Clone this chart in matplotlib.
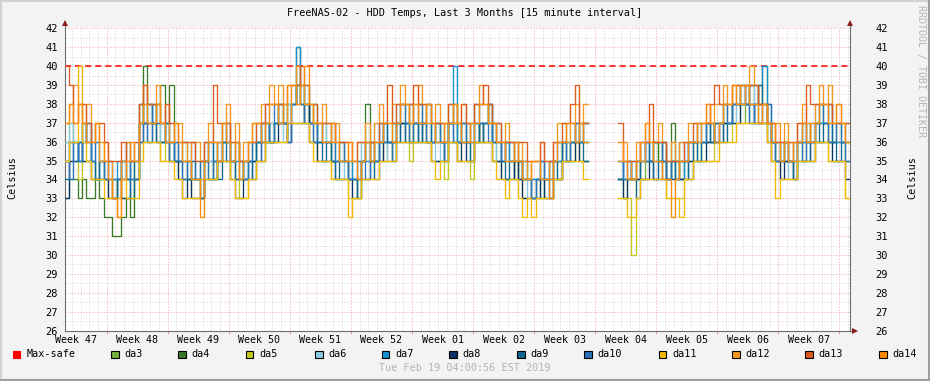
import numpy as np
import matplotlib.pyplot as plt
from matplotlib.patches import Rectangle
from matplotlib.lines import Line2D

N = None  # no data (collector gap)

# one value every 12 hours, 90 days
da3 = [36,37,36,35,37,36,35,34,35,34,34,33,34,35,34,35,34,37,38,37,
       37,38,36,37,36,35,35,36,35,34,34,35,35,34,35,36,36,37,35,36,
       34,35,35,36,36,37,37,36,37,38,37,38,38,39,38,39,37,38,36,37,
       36,35,35,36,35,34,34,33,35,36,35,36,36,35,36,37,37,38,37,36,
       37,38,37,36,36,37,36,35,37,38,36,37,36,35,37,36,37,38,36,35,
       35,36,35,34,35,34,34,33,34,33,34,35,35,34,36,35,36,37,36,37,
       N,N,N,N,N,N,N,34,33,34,34,35,34,35,35,36,35,36,34,35,
       34,35,35,36,36,35,36,37,36,37,37,38,37,38,38,37,38,39,38,37,
       38,37,36,35,35,36,35,34,36,35,36,37,37,38,37,36,36,37,36,35]
da4 = [33,34,34,33,34,33,33,34,33,32,32,31,31,32,33,32,34,37,40,38,
       37,38,39,37,39,36,35,35,34,34,34,33,35,35,34,35,36,36,35,34,
       34,34,35,35,36,36,36,37,37,37,37,38,38,41,39,38,37,37,36,36,
       36,35,35,35,35,34,34,34,35,38,36,35,36,36,36,36,37,37,37,36,
       37,37,37,36,36,36,36,36,37,37,36,36,36,36,36,37,37,37,36,36,
       35,35,35,34,35,34,34,34,34,34,34,34,35,35,36,36,36,36,36,36,
       N,N,N,N,N,N,N,34,34,34,34,34,35,35,35,36,35,35,34,37,
       35,34,35,35,36,36,36,36,36,37,37,37,37,38,38,38,38,39,39,38,
       40,37,36,36,35,35,35,35,36,36,36,36,37,37,37,36,36,36,36,36]
da5 = [35,35,35,34,35,35,34,34,34,34,33,33,34,33,33,33,34,36,36,36,
       36,36,35,36,35,35,34,34,34,33,33,33,34,34,34,35,35,35,34,34,
       33,33,34,34,35,35,36,36,36,36,36,37,37,37,37,38,36,36,35,35,
       35,34,34,34,34,33,33,33,34,34,34,35,35,35,35,36,36,36,36,35,
       36,36,36,36,35,35,35,34,36,36,35,35,35,34,36,36,36,36,35,35,
       34,34,34,34,34,33,33,33,33,33,33,33,34,34,35,35,35,36,35,35,
       N,N,N,N,N,N,N,33,33,33,30,34,34,34,34,34,34,34,33,33,
       33,33,34,34,35,35,35,35,35,36,36,36,36,37,37,37,37,37,37,37,
       37,36,35,35,34,34,34,34,35,35,35,35,36,36,36,35,35,35,35,33]
da6 = [36,37,36,35,37,36,35,36,34,35,35,34,33,35,34,35,35,37,38,37,
       38,37,36,37,36,35,35,36,34,35,35,34,36,35,34,36,36,37,35,34,
       35,34,36,35,37,36,38,37,37,38,36,38,39,38,38,39,37,38,36,37,
       36,35,35,36,34,35,34,35,36,35,35,37,36,37,35,37,38,37,37,38,
       37,36,37,38,36,35,36,37,38,37,36,37,37,36,37,38,38,37,36,35,
       35,36,35,34,34,35,33,34,34,35,33,35,35,36,36,37,37,36,36,37,
       N,N,N,N,N,N,N,34,35,34,35,34,35,36,35,34,35,36,34,35,
       35,34,35,36,36,37,36,37,37,36,37,38,38,37,39,38,38,39,37,38,
       38,37,36,35,36,35,34,35,36,37,36,37,38,37,37,38,36,37,36,35]
da7 = [35,36,36,35,36,37,35,34,35,35,34,34,35,34,34,35,35,37,37,38,
       37,37,37,36,36,35,35,35,35,34,34,34,35,36,35,35,36,36,35,35,
       35,34,35,35,36,37,37,36,37,37,37,37,38,41,39,38,37,37,36,36,
       36,36,35,35,35,35,34,34,35,35,35,35,36,37,36,36,37,37,37,37,
       37,37,37,37,36,36,36,36,37,40,36,36,36,36,37,37,37,38,36,36,
       35,36,35,35,35,35,34,34,34,34,34,34,35,35,36,36,36,36,36,36,
       N,N,N,N,N,N,N,35,34,34,35,35,35,36,35,35,35,35,35,35,
       34,34,35,36,36,36,36,36,37,36,37,37,37,38,38,38,38,38,38,39,
       40,38,36,36,35,35,35,35,36,36,36,36,37,37,37,37,36,36,36,36]
da8 = [33,35,35,36,35,35,34,34,34,34,33,33,34,33,33,34,34,36,37,37,
       37,36,36,36,35,35,34,33,34,33,33,33,34,34,34,35,35,35,34,33,
       33,34,34,35,35,36,36,36,36,37,37,36,37,37,37,38,36,36,35,35,
       35,35,34,34,34,34,33,34,34,34,35,35,35,36,36,36,36,37,36,36,
       36,37,36,36,35,35,35,36,36,36,35,36,35,35,36,37,36,36,35,35,
       34,34,34,35,34,33,33,33,33,34,33,33,34,34,35,35,35,36,35,35,
       N,N,N,N,N,N,N,34,33,34,34,34,34,34,35,34,34,35,34,34,
       34,34,34,35,35,35,35,36,36,36,36,37,37,37,37,38,39,38,37,37,
       37,36,35,35,34,35,35,34,35,35,35,36,36,36,36,36,35,35,35,34]
da9 = [34,36,35,36,37,36,35,34,35,34,34,33,34,35,34,33,35,38,37,36,
       37,36,36,37,36,35,35,34,34,35,34,33,35,36,35,34,36,35,35,34,
       34,35,35,34,36,37,37,36,37,38,37,36,38,39,38,37,37,36,36,35,
       36,35,34,35,35,34,34,33,35,36,35,34,36,37,36,35,37,36,37,38,
       37,36,37,38,36,37,36,35,37,36,36,37,36,35,37,36,37,38,36,37,
       35,34,35,36,35,34,34,33,34,35,34,33,35,34,36,35,36,37,36,35,
       N,N,N,N,N,N,N,34,35,35,34,33,35,36,35,34,35,36,34,35,
       34,35,35,34,36,35,36,37,36,37,37,36,37,38,38,39,38,37,38,39,
       38,37,36,35,35,36,35,34,36,37,36,35,37,36,37,38,36,35,36,37]
da10 = [35,34,36,35,36,37,35,36,35,34,35,34,34,35,36,34,34,36,37,36,
        38,37,37,36,35,36,35,34,35,36,34,35,35,34,35,36,37,36,35,36,
        35,34,35,36,36,35,37,36,38,37,37,36,38,39,38,37,37,36,37,36,
        36,37,35,36,35,34,34,35,35,34,36,35,37,36,36,35,37,38,37,36,
        37,38,37,36,36,37,36,35,37,36,36,37,36,37,38,37,37,36,37,36,
        35,36,36,35,35,34,34,33,34,35,34,35,35,36,36,35,36,37,36,37,
        N,N,N,N,N,N,N,35,34,35,34,35,36,35,35,36,36,35,34,35,
        35,36,35,36,36,37,36,37,37,36,37,38,37,38,38,39,38,37,38,38,
        37,38,36,35,35,36,35,36,36,35,37,36,37,38,37,36,36,37,36,35]
da11 = [35,36,36,40,36,35,34,34,34,33,33,33,33,34,33,33,33,35,36,36,
        36,36,35,35,35,34,34,33,33,33,33,34,34,34,34,35,35,35,34,33,
        33,33,34,34,35,35,36,36,36,36,36,37,37,37,37,37,36,35,35,35,
        35,34,34,34,34,32,33,33,34,34,34,34,35,35,35,35,36,36,36,36,
        36,36,36,36,35,34,35,35,36,36,35,35,35,35,36,36,36,36,35,34,
        34,33,34,34,33,32,33,32,33,33,33,33,34,34,35,35,35,35,35,34,
        N,N,N,N,N,N,N,33,33,32,32,33,34,34,34,34,34,34,33,33,
        33,32,34,34,35,35,35,35,35,35,36,36,36,36,37,37,37,37,37,37,
        37,36,35,33,34,34,34,34,35,35,35,35,36,36,36,35,35,35,35,33]
da12 = [37,38,39,38,37,38,36,37,35,36,35,33,32,35,36,35,35,38,39,38,
        38,39,37,38,36,37,37,36,35,36,36,35,36,37,36,36,37,38,36,37,
        35,36,36,37,37,38,38,39,38,39,38,37,39,40,39,38,38,37,37,38,
        37,36,37,36,36,35,35,36,36,37,36,37,38,37,37,38,38,39,38,37,
        38,39,38,37,37,38,37,36,38,37,37,38,37,36,38,39,38,37,37,36,
        36,37,36,35,36,35,34,35,35,36,35,34,36,37,37,36,37,38,37,38,
        N,N,N,N,N,N,N,35,36,35,34,36,35,37,36,36,37,36,35,36,
        35,36,36,37,37,36,37,38,37,38,38,39,38,39,39,38,39,40,39,38,
        38,37,37,36,36,37,36,35,37,38,37,36,38,39,38,39,37,38,37,36]
da13 = [40,39,37,38,38,37,36,37,37,36,35,35,35,36,35,35,36,38,39,38,
        38,38,37,38,37,37,36,36,36,36,35,35,36,36,39,37,37,37,36,36,
        35,35,36,36,37,37,38,38,38,38,38,39,39,39,40,39,38,38,37,37,
        37,37,36,36,36,36,35,36,36,36,36,36,37,37,39,37,38,38,38,38,
        39,38,38,38,37,37,37,37,38,38,37,38,37,37,38,38,39,38,37,37,
        36,36,36,36,36,36,35,35,35,36,35,35,36,36,37,37,38,39,37,37,
        N,N,N,N,N,N,N,37,35,35,35,35,36,36,38,36,36,36,35,35,
        35,35,36,36,37,37,37,37,38,39,38,38,38,39,39,39,39,39,39,38,
        38,37,37,36,36,36,36,36,37,37,39,38,38,38,38,38,37,37,37,37]
da14 = [37,38,37,38,37,36,36,37,36,35,34,33,32,34,35,36,35,37,38,37,
        37,38,37,36,36,37,36,35,35,34,34,32,35,36,36,35,37,36,35,36,
        34,35,36,37,37,36,37,38,38,37,38,39,39,38,39,40,38,37,37,36,
        36,37,36,35,35,36,35,34,35,36,35,36,36,37,37,36,37,38,38,37,
        38,37,37,38,37,36,36,37,37,38,37,36,36,37,37,38,38,37,37,36,
        36,35,35,36,35,34,34,35,35,34,34,33,35,36,36,37,37,36,37,36,
        N,N,N,N,N,N,N,36,35,34,34,35,36,37,36,35,35,34,34,32,
        34,35,35,36,36,37,37,38,37,36,37,38,38,39,38,39,39,38,38,37,
        38,37,36,37,35,36,35,36,36,37,36,37,37,38,38,37,37,38,37,36]

names = ['da3', 'da4', 'da5', 'da6', 'da7', 'da8', 'da9', 'da10',
         'da11', 'da12', 'da13', 'da14']
series = [da3, da4, da5, da6, da7, da8, da9, da10, da11, da12, da13, da14]
colors = ['#72b13e', '#3b7a27', '#c5c91d', '#8dcbe2', '#1790d2', '#0b3466',
          '#0d6891', '#2c72b8', '#f7b900', '#f6981f', '#df5a1d', '#ff8b05']
max_safe = 40
weeks = ['Week 47', 'Week 48', 'Week 49', 'Week 50', 'Week 51', 'Week 52',
         'Week 01', 'Week 02', 'Week 03', 'Week 04', 'Week 05', 'Week 06',
         'Week 07']

W, H = 930, 381
def fx(px): return px / W
def fy(py): return 1 - py / H

plt.rcParams['font.family'] = 'DejaVu Sans Mono'
FS = 7.3

fig = plt.figure(figsize=(9.3, 3.81), dpi=100, facecolor='#f3f3f3')
ax = fig.add_axes([fx(64.5), fy(330.6), 785 / W, 302.3 / H])
ax.set_facecolor('white')

days = 90
week0 = 4.84  # first week boundary, in days from the left edge

ax.set_xlim(0, days)
ax.set_ylim(26, 42)

# grid
ax.set_xticks(week0 + 7 * np.arange(13))
ax.set_xticks(week0 - 4 + np.arange(days), minor=True)
ax.set_yticks(np.arange(26, 43))
ax.set_yticks(np.arange(26.5, 42, 1), minor=True)
ax.grid(which='minor', color='#d0d0d0', ls=(0, (1, 2)), lw=0.72)
ax.grid(which='major', color='#eaa3a3', ls=(0, (1, 2)), lw=0.72)
ax.set_axisbelow(True)
ax.set_xticklabels([])
ax.tick_params(axis='x', which='major', length=2, color='#e89a9a', width=0.7)
ax.tick_params(axis='x', which='minor', length=0)
ax.tick_params(axis='y', which='both', length=0, pad=4.6, labelsize=7.5)

ax.spines['top'].set_visible(False)
for s in ['left', 'right', 'bottom']:
    ax.spines[s].set_color('#6e6e6e')
    ax.spines[s].set_linewidth(0.8)

ax2 = ax.twinx()
ax2.set_ylim(26, 42)
ax2.set_yticks(np.arange(26, 43))
ax2.tick_params(axis='y', length=0, pad=18.9, labelsize=7.5)
for s in ax2.spines.values():
    s.set_visible(False)

# max-safe line, then drives
ax.axhline(max_safe, color='#ff0000', lw=1.1, ls=(0, (4, 2.6)), zorder=2)
for vals, c in zip(series, colors):
    y = np.array(vals + [vals[-1]], dtype=float)
    x = np.arange(len(y)) * 0.5
    ax.step(x, y, where='post', color=c, lw=0.95, zorder=3)

# week labels
for i, lbl in enumerate(weeks):
    ax.text(week0 - 3.5 + 7 * i, -0.031, lbl, transform=ax.get_xaxis_transform(),
            ha='center', va='center', fontsize=7.2)

# axis arrows
arrow_c = '#8b1a1a'
fig.add_artist(Line2D([fx(64.5), fx(64.5)], [fy(28.3), fy(24)], color='#6e6e6e', lw=0.8))
fig.add_artist(Line2D([fx(849.5), fx(849.5)], [fy(28.3), fy(24)], color='#6e6e6e', lw=0.8))
fig.add_artist(Line2D([fx(849.5), fx(853)], [fy(330.6), fy(330.6)], color='#6e6e6e', lw=0.8))
fig.add_artist(Line2D([fx(64.5)], [fy(23)], marker='^', ms=4, color=arrow_c, mew=0))
fig.add_artist(Line2D([fx(849.5)], [fy(23)], marker='^', ms=4, color=arrow_c, mew=0))
fig.add_artist(Line2D([fx(855)], [fy(330.6)], marker='>', ms=4, color=arrow_c, mew=0))

# texts
fig.text(fx(465), fy(12.5), 'FreeNAS-02 - HDD Temps, Last 3 Months [15 minute interval]',
         ha='center', va='center', fontsize=FS)
fig.text(fx(12), fy(178), 'Celsius', rotation=90, ha='center', va='center', fontsize=FS)
fig.text(fx(912), fy(178), 'Celsius', rotation=90, ha='center', va='center', fontsize=FS)
fig.text(fx(920.5), fy(71), 'RRDTOOL / TOBI OETIKER', rotation=270, ha='center',
         va='center', fontsize=7.2, color='#b4b4b4')
fig.text(fx(465), fy(368.3), 'Tue Feb 19 04:00:56 EST 2019', ha='center', va='center',
         fontsize=FS, color='#b4b4b4')

# legend
leg_x = [12.7, 111, 178, 245.7, 315, 381.7, 449, 517, 584, 658.7, 732, 805, 879]
leg_y = 354.3
labels = ['Max-safe'] + names
box_cols = ['#ff0000'] + colors
for px, lbl, c in zip(leg_x, labels, box_cols):
    ec = '#ff0000' if lbl == 'Max-safe' else '#000000'
    fig.add_artist(Rectangle((fx(px), fy(leg_y + 4)), 7.5 / W, 7.5 / H,
                             transform=fig.transFigure, facecolor=c,
                             edgecolor=ec, lw=0.8))
    fig.text(fx(px + 13.5), fy(leg_y), lbl, ha='left', va='center', fontsize=FS)

# frame
fig.add_artist(Line2D([0, 1], [fy(0.8), fy(0.8)], color='#d2d2d2', lw=1.5))
fig.add_artist(Line2D([fx(0.8), fx(0.8)], [0, 1], color='#d2d2d2', lw=1.5))
fig.add_artist(Line2D([0, 1], [fy(380.2), fy(380.2)], color='#9e9e9e', lw=1.5))
fig.add_artist(Line2D([fx(929.2), fx(929.2)], [0, 1], color='#9e9e9e', lw=1.5))

fig.savefig('out.png', dpi=100, facecolor=fig.get_facecolor())
